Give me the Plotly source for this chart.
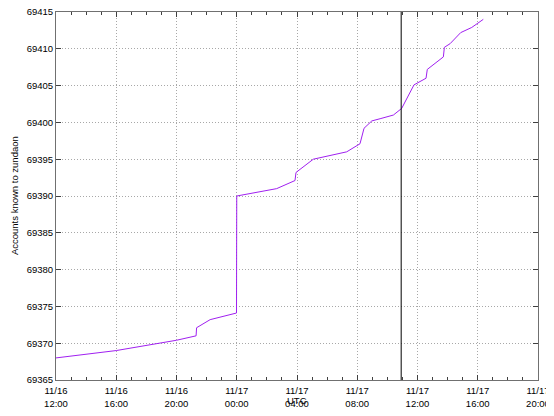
import plotly.graph_objects as go

# accounts known to the instance, sampled through the day (UTC)
times = [
    "2016-11-16 12:00", "2016-11-16 16:00", "2016-11-16 20:00", "2016-11-16 21:18",
    "2016-11-16 21:20", "2016-11-16 22:14", "2016-11-16 23:59", "2016-11-17 00:00",
    "2016-11-17 02:39", "2016-11-17 03:52", "2016-11-17 03:56", "2016-11-17 05:05",
    "2016-11-17 07:18", "2016-11-17 08:11", "2016-11-17 08:27", "2016-11-17 08:58",
    "2016-11-17 09:31", "2016-11-17 10:24", "2016-11-17 10:57", "2016-11-17 11:46",
    "2016-11-17 12:34", "2016-11-17 12:39", "2016-11-17 13:43", "2016-11-17 13:47",
    "2016-11-17 14:10", "2016-11-17 14:52", "2016-11-17 15:36", "2016-11-17 16:22",
]
accounts = [
    69368.0, 69369.0, 69370.4, 69371.0,
    69372.1, 69373.2, 69374.1, 69390.0,
    69391.0, 69392.1, 69393.2, 69395.0,
    69396.0, 69397.1, 69399.2, 69400.2,
    69400.5, 69401.0, 69401.9, 69405.1,
    69406.0, 69407.2, 69408.9, 69410.2,
    69410.7, 69412.2, 69412.9, 69414.0,
]

marker_time = "2016-11-17 10:55"

tick_times = [
    "2016-11-16 12:00", "2016-11-16 16:00", "2016-11-16 20:00",
    "2016-11-17 00:00", "2016-11-17 04:00", "2016-11-17 08:00",
    "2016-11-17 12:00", "2016-11-17 16:00", "2016-11-17 20:00",
]
tick_labels = [
    "11/16<br>12:00", "11/16<br>16:00", "11/16<br>20:00",
    "11/17<br>00:00", "11/17<br>04:00", "11/17<br>08:00",
    "11/17<br>12:00", "11/17<br>16:00", "11/17<br>20:00",
]
y_ticks = [69365, 69370, 69375, 69380, 69385, 69390, 69395, 69400, 69405, 69410, 69415]

fig = go.Figure()
fig.add_trace(go.Scatter(x=times, y=accounts, mode="lines",
                         line=dict(color="#a020f0", width=1), showlegend=False))

fig.add_shape(type="line", xref="x", yref="paper", x0=marker_time, x1=marker_time,
              y0=0, y1=1, line=dict(color="black", width=1))

axis_common = dict(
    showline=True, linecolor="#707070", linewidth=1, mirror="allticks",
    ticks="inside", ticklen=5, tickcolor="#404040",
    showgrid=True, gridcolor="#a8a8a8", griddash="1px,2px", gridwidth=1,
    zeroline=False, automargin=False, ticklabeloverflow="allow",
    tickfont=dict(size=9.5, color="black"),
)

fig.update_xaxes(
    type="date", range=["2016-11-16 12:00", "2016-11-17 20:00"],
    tickvals=tick_times, ticktext=tick_labels, ticklabelstandoff=2,
    minor=dict(dtick=3600000, ticks="inside", ticklen=3, tickcolor="#404040", showgrid=False),
    **axis_common,
)
fig.update_yaxes(range=[69365, 69415], tickvals=y_ticks, tickformat="d", **axis_common)

fig.add_annotation(text="Accounts known to zundaon", textangle=-90, xref="paper", yref="paper",
                   x=-0.087, y=0.5, xanchor="center", yanchor="middle", showarrow=False,
                   font=dict(size=9.5, color="black"))
fig.add_annotation(text="UTC", xref="paper", yref="paper", x=0.5, y=-0.036,
                   xanchor="center", yanchor="top", showarrow=False,
                   font=dict(size=9.5, color="black"))

# the page body adds an 8px margin, so the figure is 8px smaller on each axis
fig.update_layout(
    width=546, height=408,
    margin=dict(l=48, r=16, t=4, b=36),
    paper_bgcolor="white", plot_bgcolor="white",
    font=dict(family="Liberation Sans", size=9.5, color="black"),
)

fig.write_html("out.html")
